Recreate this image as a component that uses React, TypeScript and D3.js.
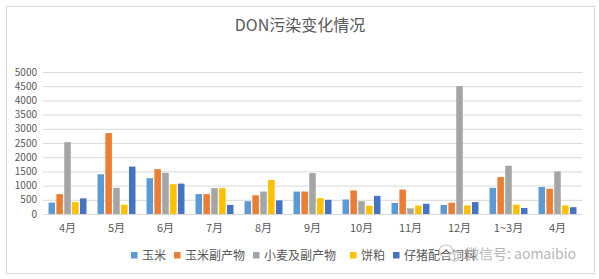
import React from "react";
import * as d3 from "d3";

const categories = ["4月", "5月", "6月", "7月", "8月", "9月", "10月", "11月", "12月", "1~3月", "4月 "];
const seriesNames = ["玉米", "玉米副产物", "小麦及副产物", "饼粕", "仔猪配合饲料"];
const corn = [400, 1400, 1260, 700, 450, 790, 510, 390, 320, 920, 950];
const cornBy = [700, 2850, 1580, 700, 660, 790, 830, 860, 400, 1300, 890];
const wheat = [2530, 920, 1450, 910, 790, 1440, 450, 200, 4500, 1700, 1500];
const meal = [420, 330, 1050, 910, 1200, 560, 290, 300, 300, 330, 300];
const piglet = [550, 1670, 1070, 320, 480, 500, 640, 360, 420, 210, 240];
const yTicks = [0, 500, 1000, 1500, 2000, 2500, 3000, 3500, 4000, 4500, 5000];
const colors = ["#5B9BD5", "#ED7D31", "#A5A5A5", "#FFC000", "#4472C4"];

const W = 599;
const H = 279;
const FONT = "'Noto Sans CJK SC', 'Noto Sans', sans-serif";

export default function App() {
  const series = [corn, cornBy, wheat, meal, piglet];
  const left = 43;
  const right = 582;
  const top = 72;
  const bottom = 214;
  const x = d3.scaleBand<string>().domain(categories).range([left, right]).paddingInner(0.225).paddingOuter(0.1125);
  const xi = d3.scaleBand<number>().domain(d3.range(series.length)).range([0, x.bandwidth()]).paddingInner(0.17);
  const y = d3.scaleLinear().domain([0, 5000]).range([bottom, top]);

  const legendX = [131, 174, 253, 350, 393];

  return (
    <svg width={W} height={H} style={{ position: "absolute", left: 0, top: 0, background: "#fff" }} fontFamily={FONT}>
      <rect x={6.5} y={6.5} width={588} height={267} fill="#fff" stroke="#d9d9d9" />
      <text x={300} y={31} textAnchor="middle" fontSize={16} fill="#595959">DON污染变化情况</text>
      {yTicks.map((t) => (
        <g key={t}>
          <line x1={left} x2={right} y1={y(t) + 0.5} y2={y(t) + 0.5} stroke="#d9d9d9" strokeWidth={1} />
          <text x={37} y={y(t) + 3.5} textAnchor="end" fontSize={10} fill="#595959">{t}</text>
        </g>
      ))}
      {categories.map((c, ci) => (
        <g key={ci}>
          {series.map((s, si) => (
            <rect
              key={si}
              x={(x(c) as number) + (xi(si) as number)}
              y={y(s[ci])}
              width={xi.bandwidth()}
              height={bottom - y(s[ci])}
              fill={colors[si]}
            />
          ))}
          <text x={(x(c) as number) + x.bandwidth() / 2} y={232} textAnchor="middle" fontSize={11} fill="#595959">{c.trim()}</text>
        </g>
      ))}
      {seriesNames.map((n, i) => (
        <g key={n}>
          <rect x={legendX[i]} y={252} width={6.5} height={6.5} fill={colors[i]} />
          <text x={legendX[i] + 11} y={260} fontSize={12} fill="#595959">{n}</text>
        </g>
      ))}
      <g opacity={0.75}>
        <ellipse cx={446} cy={251} rx={7} ry={6} fill="none" stroke="#bbb" strokeWidth={1.2} />
        <ellipse cx={455} cy={256} rx={6} ry={5} fill="#fff" fillOpacity={0.6} stroke="#bbb" strokeWidth={1.2} />
        <text x={465} y={259} fontSize={14} fill="#a0a0a0">微信号: aomaibio</text>
      </g>
    </svg>
  );
}
